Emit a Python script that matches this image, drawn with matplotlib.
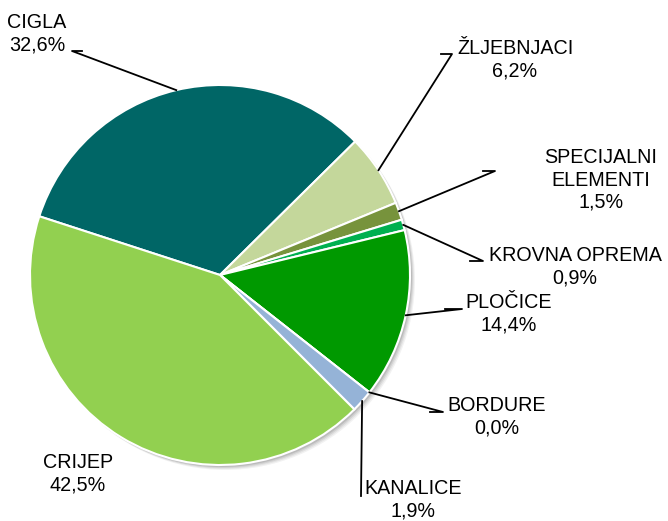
"""Pie chart of product shares with leader-line labels."""

import numpy as np
import matplotlib
matplotlib.use("Agg")
import matplotlib.pyplot as plt
from matplotlib.patches import Circle

# data, clockwise from the CIGLA slice
categories = ["CIGLA", "ŽLJEBNJACI", "SPECIJALNI\nELEMENTI", "KROVNA OPREMA",
              "PLOČICE", "BORDURE", "KANALICE", "CRIJEP"]
shares = [32.6, 6.2, 1.5, 0.9, 14.4, 0.0, 1.9, 42.5]
colors = ["#006666", "#C4D79B", "#77933C", "#00B050",
          "#009900", "#4F81BD", "#95B3D7", "#92D050"]

W, H = 668, 521
CX, CY, R = 220, 246, 190   # pie centre / radius in pixel units (y up)
START = 162

# label layout (image pixel coords, y down): text centre, elbow points
LABELS = {
    "CIGLA": dict(text=(37, 34), path=[(72, 51), (82, 51)]),
    "ŽLJEBNJACI": dict(text=(515, 60), path=[(452, 54), (441, 54)]),
    "SPECIJALNI\nELEMENTI": dict(text=(601, 180), path=[(495, 171), (483, 171)]),
    "KROVNA OPREMA": dict(text=(575, 267), path=[(483, 261), (470, 261)]),
    "PLOČICE": dict(text=(509, 314), path=[(462, 309), (445, 309)]),
    "BORDURE": dict(text=(497, 417), path=[(443, 412), (430, 412)]),
    "KANALICE": dict(text=(413, 500), path=[(361, 496)]),
    "CRIJEP": dict(text=(78, 474), path=None),
}

plt.rcParams["font.family"] = ["Liberation Sans", "DejaVu Sans"]

fig = plt.figure(figsize=(W / 100, H / 100), dpi=100)
ax = fig.add_axes([0, 0, 1, 1])

# soft shadow
for k, a in [(5, 0.05), (4, 0.06), (3, 0.08), (2, 0.1)]:
    ax.add_patch(Circle((CX + k, CY - k), R, color="black", alpha=a, lw=0, zorder=0))

wedges, _ = ax.pie(shares, colors=colors, startangle=START, counterclock=False,
                   center=(CX, CY), radius=R, frame=True,
                   wedgeprops=dict(edgecolor="white", linewidth=1.5))
for w in wedges:
    w.set_zorder(1)
ax.set_xlim(0, W)
ax.set_ylim(0, H)
ax.set_aspect("equal")
ax.axis("off")

cum = np.cumsum([0] + shares)
for i, name in enumerate(categories):
    lay = LABELS[name]
    tx, ty = lay["text"]
    ax.text(tx, H - ty, f"{name}\n{shares[i]:.1f}%".replace(".", ","),
            ha="center", va="center", fontsize=14.2, linespacing=1.22,
            color="black", zorder=3)
    if lay["path"] is None:
        continue
    mid = np.radians(START - (cum[i] + shares[i] / 2) * 3.6)
    px, py = CX + R * np.cos(mid), CY + R * np.sin(mid)
    pts = [(px, py)] + [(x, H - y) for x, y in lay["path"]]
    xs, ys = zip(*pts)
    ax.plot(xs, ys, color="black", lw=1.3, zorder=2)

fig.savefig("out.png", dpi=100, facecolor="white")
